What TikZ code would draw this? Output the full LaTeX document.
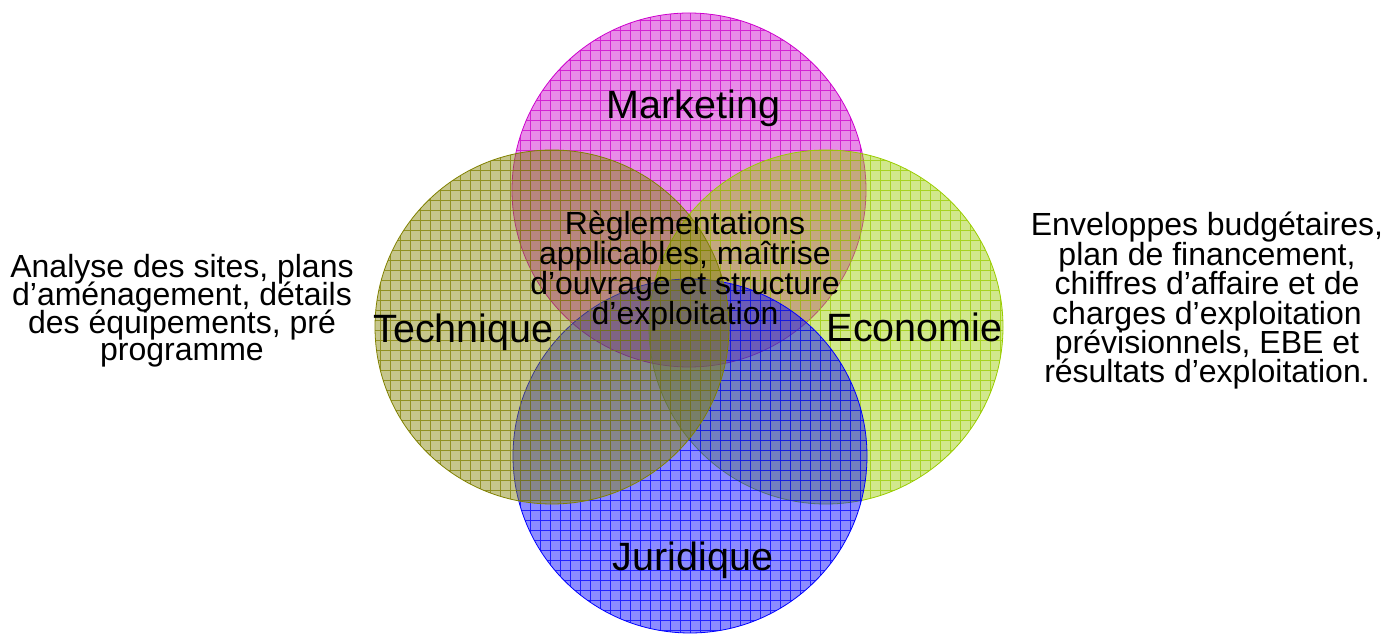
\documentclass[tikz,border=0pt]{standalone}
\usepackage{fontspec}
\setmainfont{Liberation Sans}
\definecolor{mk}{RGB}{204,0,204}
\definecolor{te}{RGB}{128,128,0}
\definecolor{ec}{RGB}{153,204,0}
\definecolor{ju}{RGB}{0,0,255}
\newcommand\mytightls{\lineskiplimit=-60pt\relax}
\tikzset{
  big/.style={font=\fontsize{39.5}{44}\selectfont, inner sep=0pt, anchor=base},
  body/.style={font={\fontsize{32}{29.4}\selectfont\mytightls}, inner sep=0pt, align=center},
}
\begin{document}
\begin{tikzpicture}[x=1pt,y=-1pt]
\useasboundingbox (0,0) rectangle (1385,636);
\foreach \cx/\cy/\col in {689/190/mk, 826/327/ec, 690/456/ju, 552/327/te} {
  \fill[\col, fill opacity=0.45] (\cx,\cy) circle (177pt);
  \begin{scope}
    \clip (\cx,\cy) circle (177pt);
    \draw[\col, opacity=0.75, line width=0.75pt, step=10pt] (0,0) grid (1385,636);
  \end{scope}
  \draw[\col, line width=0.8pt] (\cx,\cy) circle (177pt);
}
\node[big] (mark) at (693.5,119) {Marketing};
\node[big] (tech) at (463.5,343) {Technique};
\node[big] (eco) at (914.5,342) {Economie};
\node[big] (jur) at (693,570) {Juridique};
\node[body, font={\fontsize{32}{29.7}\selectfont\mytightls}] (centre) at (685,271) {Règlementations\\applicables, maîtrise\\d’ouvrage et structure\\d’exploitation};
\node[body, font={\fontsize{32}{27.7}\selectfont\mytightls}] (gauche) at (182,311) {Analyse des sites, plans\\d’aménagement, détails\\des équipements, pré\\programme};
\node[body] (droite) at (1207,301) {Enveloppes budgétaires,\\plan de financement,\\chiffres d’affaire et de\\charges d’exploitation\\prévisionnels, EBE et\\résultats d’exploitation.};
\end{tikzpicture}
\end{document}
